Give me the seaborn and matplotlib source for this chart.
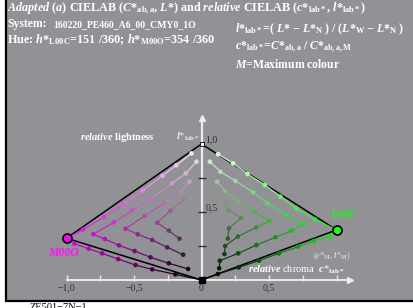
import numpy as np
import matplotlib
matplotlib.use("Agg")
import matplotlib.pyplot as plt
import seaborn as sns
from matplotlib.patches import Rectangle

sns.set_theme(style="white")
plt.rcParams['font.family'] = ['Liberation Serif', 'DejaVu Serif']
plt.rcParams['mathtext.fontset'] = 'custom'
plt.rcParams['mathtext.rm'] = 'Liberation Serif:bold'
plt.rcParams['mathtext.it'] = 'Liberation Serif:italic:bold'
plt.rcParams['mathtext.bf'] = 'Liberation Serif:bold'

# corner colours (relative chroma c*, relative lightness l*)
white_pt = (0.0, 1.0)
black_pt = (0.0, 0.0)
m00o = (-1.0, 0.307)
l00c = (1.0, 0.368)

# magenta side, measured series (nested V's)
mag1_c = [-0.074, -0.187, -0.289, -0.437, -0.580, -0.723, -0.876, -1.0,
          -0.941, -0.835, -0.736, -0.617, -0.489, -0.365, -0.193, 0.0]
mag1_l = [0.931, 0.843, 0.767, 0.657, 0.556, 0.461, 0.372, 0.307,
          0.267, 0.230, 0.196, 0.154, 0.110, 0.078, 0.042, 0.0]
mag2_c = [-0.037, -0.116, -0.217, -0.370, -0.514, -0.649, -0.802,
          -0.716, -0.612, -0.496, -0.378, -0.242, -0.099]
mag2_l = [0.870, 0.784, 0.711, 0.600, 0.510, 0.424, 0.336,
          0.301, 0.255, 0.213, 0.167, 0.123, 0.081]
mag3_c = [-0.089, -0.150, -0.279, -0.420, -0.563, -0.472, -0.365, -0.254, -0.136]
mag3_l = [0.723, 0.654, 0.564, 0.471, 0.377, 0.336, 0.294, 0.240, 0.186]
mag4_c = [-0.126, -0.230, -0.328, -0.242, -0.163]
mag4_l = [0.593, 0.510, 0.421, 0.363, 0.304]

# green side
grn1_c = [0.123, 0.235, 0.341, 0.469, 0.585, 0.704, 0.840, 1.0,
          0.948, 0.832, 0.716, 0.573, 0.425, 0.276, 0.121, 0.0]
grn1_l = [0.925, 0.858, 0.779, 0.699, 0.613, 0.525, 0.446, 0.368,
          0.319, 0.287, 0.245, 0.196, 0.142, 0.093, 0.044, 0.0]
grn2_c = [0.062, 0.141, 0.252, 0.383, 0.489, 0.630, 0.758,
          0.667, 0.548, 0.407, 0.272, 0.136, 0.131]
grn2_l = [0.870, 0.796, 0.728, 0.645, 0.564, 0.480, 0.410,
          0.363, 0.314, 0.257, 0.196, 0.142, 0.086]
grn3_c = [0.116, 0.175, 0.269, 0.388, 0.504, 0.405, 0.269, 0.175, 0.170]
grn3_l = [0.723, 0.654, 0.581, 0.505, 0.434, 0.387, 0.319, 0.250, 0.191]
grn4_c = [0.158, 0.200, 0.295, 0.203, 0.195]
grn4_l = [0.588, 0.515, 0.458, 0.380, 0.304]

x_ticks = [-1.0, -0.75, -0.5, -0.25, 0.25, 0.5, 0.75, 1.0]
x_ticklabels = {-1.0: '−1,0', -0.5: '−0,5', 0.0: '0', 0.5: '0,5'}
y_ticks = [0.25, 0.5, 0.75]

W, H = 413, 308
fig = plt.figure(figsize=(W / 100, H / 100), dpi=100)
fig.patch.set_facecolor('white')
ax = fig.add_axes([0, 0, 1, 1])
ax.set_xlim(-201.5 / 135, (W - 201.5) / 135)
ax.set_ylim((280 - H) / 136, 280 / 136)
ax.axis('off')

def fpos(px, py):
    return px / W, 1 - py / H

# grey panel
ax.add_patch(Rectangle(fpos(5.5, 301), 1.2, 1.2, transform=ax.transAxes,
                       facecolor='#929296', edgecolor='black', lw=1.6, zorder=0))

def mix(c, l, corner, rgb):
    # barycentric mix of white / max colour / black
    m = min(1.0, abs(c) / abs(corner[0]))
    w = max(0.0, l - m * corner[1])
    col = w * np.ones(3) + m * np.array(rgb)
    return tuple(np.clip(col, 0, 1) ** 1.2)

mag_rgb = (0.92, 0.05, 0.92)
grn_rgb = (0.15, 0.95, 0.15)

# outline triangles
for corner in (m00o, l00c):
    ax.plot([white_pt[0], corner[0], black_pt[0]], [white_pt[1], corner[1], black_pt[1]],
            color='black', lw=1.1, zorder=3)

series = [(mag1_c, mag1_l, m00o, mag_rgb), (mag2_c, mag2_l, m00o, mag_rgb),
          (mag3_c, mag3_l, m00o, mag_rgb), (mag4_c, mag4_l, m00o, mag_rgb),
          (grn1_c, grn1_l, l00c, grn_rgb), (grn2_c, grn2_l, l00c, grn_rgb),
          (grn3_c, grn3_l, l00c, grn_rgb), (grn4_c, grn4_l, l00c, grn_rgb)]

pts_x, pts_y, pts_col = [], [], []
for cs, ls, corner, rgb in series:
    cols = [mix(c, l, corner, rgb) for c, l in zip(cs, ls)]
    for i in range(len(cs) - 1):
        seg_col = tuple((np.array(cols[i]) + np.array(cols[i + 1])) / 2)
        ax.plot(cs[i:i + 2], ls[i:i + 2], color=seg_col, lw=0.9, zorder=4)
    pts_x += cs
    pts_y += ls
    pts_col += cols

keys = [str(i) for i in range(len(pts_x))]
sns.scatterplot(x=pts_x, y=pts_y, hue=keys, palette=dict(zip(keys, pts_col)),
                s=11, linewidth=0, legend=False, ax=ax, zorder=5)

# axes
ax.plot([-1.0, 1.09], [0, 0], color='#ececec', lw=1.4, zorder=2)
ax.plot([1.1], [0], marker='>', ms=4, color='#ececec', zorder=2)
ax.plot([0, 0], [0, 1.18], color='#ececec', lw=1.6, zorder=2)
ax.plot([0], [1.19], marker='^', ms=4, color='#ececec', zorder=2)
ax.plot(x_ticks, [0.012] * len(x_ticks), ls='none', marker='|', ms=4, mew=1.0,
        color='#ececec', zorder=2)
ax.plot([0.005] * len(y_ticks), y_ticks, ls='none', marker='_', ms=6, mew=1.0,
        color='#303030', zorder=3)
for v, lab in x_ticklabels.items():
    ax.text(v, -0.06, lab, ha='center', va='center', fontsize=7, color='#303030')
ax.text(0.03, 1.0, '1,0', ha='left', va='bottom', fontsize=7, color='#303030')
ax.text(0.03, 0.5, '0,5', ha='left', va='bottom', fontsize=7, color='#303030')

# special points
ax.plot(*black_pt, marker='s', ms=4.5, color='black', zorder=7)
ax.plot(*white_pt, marker='s', ms=3.2, mfc='white', mec='black', mew=0.6, zorder=7)
ax.plot(*m00o, marker='o', ms=6.5, mfc=mag_rgb, mec='black', mew=1.2, zorder=7)
ax.plot(*l00c, marker='o', ms=6.5, mfc=grn_rgb, mec='black', mew=1.2, zorder=7)

# header text
hdr = dict(transform=ax.transAxes, color='white', fontweight='bold', va='center', ha='left')
ax.text(*fpos(7, 9), r"$\mathit{Adapted\ (a)}$ CIELAB ($\mathit{C}$*${}_{\rm ab,a}$, $\mathit{L}$*) and "
        r"$\mathit{relative}$ CIELAB ($\mathit{c}$*${}_{\rm lab*}$, $\mathit{l}$*${}_{\rm lab*}$)",
        fontsize=8.7, **hdr)
ax.text(*fpos(7, 24), "System:", fontsize=8.5, **hdr)
ax.text(*fpos(53, 24.5), "160220_PE460_A6_00_CMY0_1O", fontsize=7, **hdr)
ax.text(*fpos(7, 40), r"Hue: $\mathit{h}$*${}_{\rm L00C}$=151 /360; $\mathit{h}$*${}_{\rm M00O}$=354 /360",
        fontsize=8.8, **hdr)
ax.text(*fpos(235, 29), r"$\mathit{l}$*${}_{\rm lab*}$=( $\mathit{L}$* − $\mathit{L}$*${}_{\rm N}$ ) / "
        r"($\mathit{L}$*${}_{\rm W}$ − $\mathit{L}$*${}_{\rm N}$ )", fontsize=8.6, **hdr)
ax.text(*fpos(235, 47), r"$\mathit{c}$*${}_{\rm lab*}$=$\mathit{C}$*${}_{\rm ab,a}$ / $\mathit{C}$*${}_{\rm ab,a,M}$",
        fontsize=8.4, **hdr)
ax.text(*fpos(235, 64), r"$\mathit{M}$=Maximum colour", fontsize=8.4, **hdr)

# labels inside the plot
ax.text(*fpos(155, 137), r"$\mathit{relative}$ lightness", fontsize=7.5, color='white',
        fontweight='bold', ha='right', va='center', transform=ax.transAxes)
ax.text(*fpos(176, 137), r"$\mathit{l}$*${}_{\rm lab*}$", fontsize=7.5, color='#e8e8e8',
        ha='left', va='center', transform=ax.transAxes)
ax.text(*fpos(48, 253), "M00O", fontsize=8.5, color='#ff10ff', fontweight='bold',
        fontstyle='italic', ha='left', va='center', transform=ax.transAxes, zorder=8)
ax.text(*fpos(330, 215), "L00C", fontsize=8.5, color='#20f020', fontweight='bold',
        fontstyle='italic', ha='left', va='center', transform=ax.transAxes, zorder=8)
ax.text(*fpos(313, 256), r"($\mathit{c}$*${}_{\rm M}$, $\mathit{l}$*${}_{\rm M}$)", fontsize=6,
        color='#dcdcdc', ha='left', va='center', transform=ax.transAxes)
ax.text(*fpos(248, 270), r"$\mathit{relative}$ chroma  $\mathit{c}$*${}_{\rm lab*}$", fontsize=7.5,
        color='white', ha='left', va='center', transform=ax.transAxes, zorder=8)
ax.text(*fpos(30, 303), "ZE501−7N−1", fontsize=7.5, color='black',
        ha='left', va='top', transform=ax.transAxes)

fig.savefig('out.png', dpi=100)
